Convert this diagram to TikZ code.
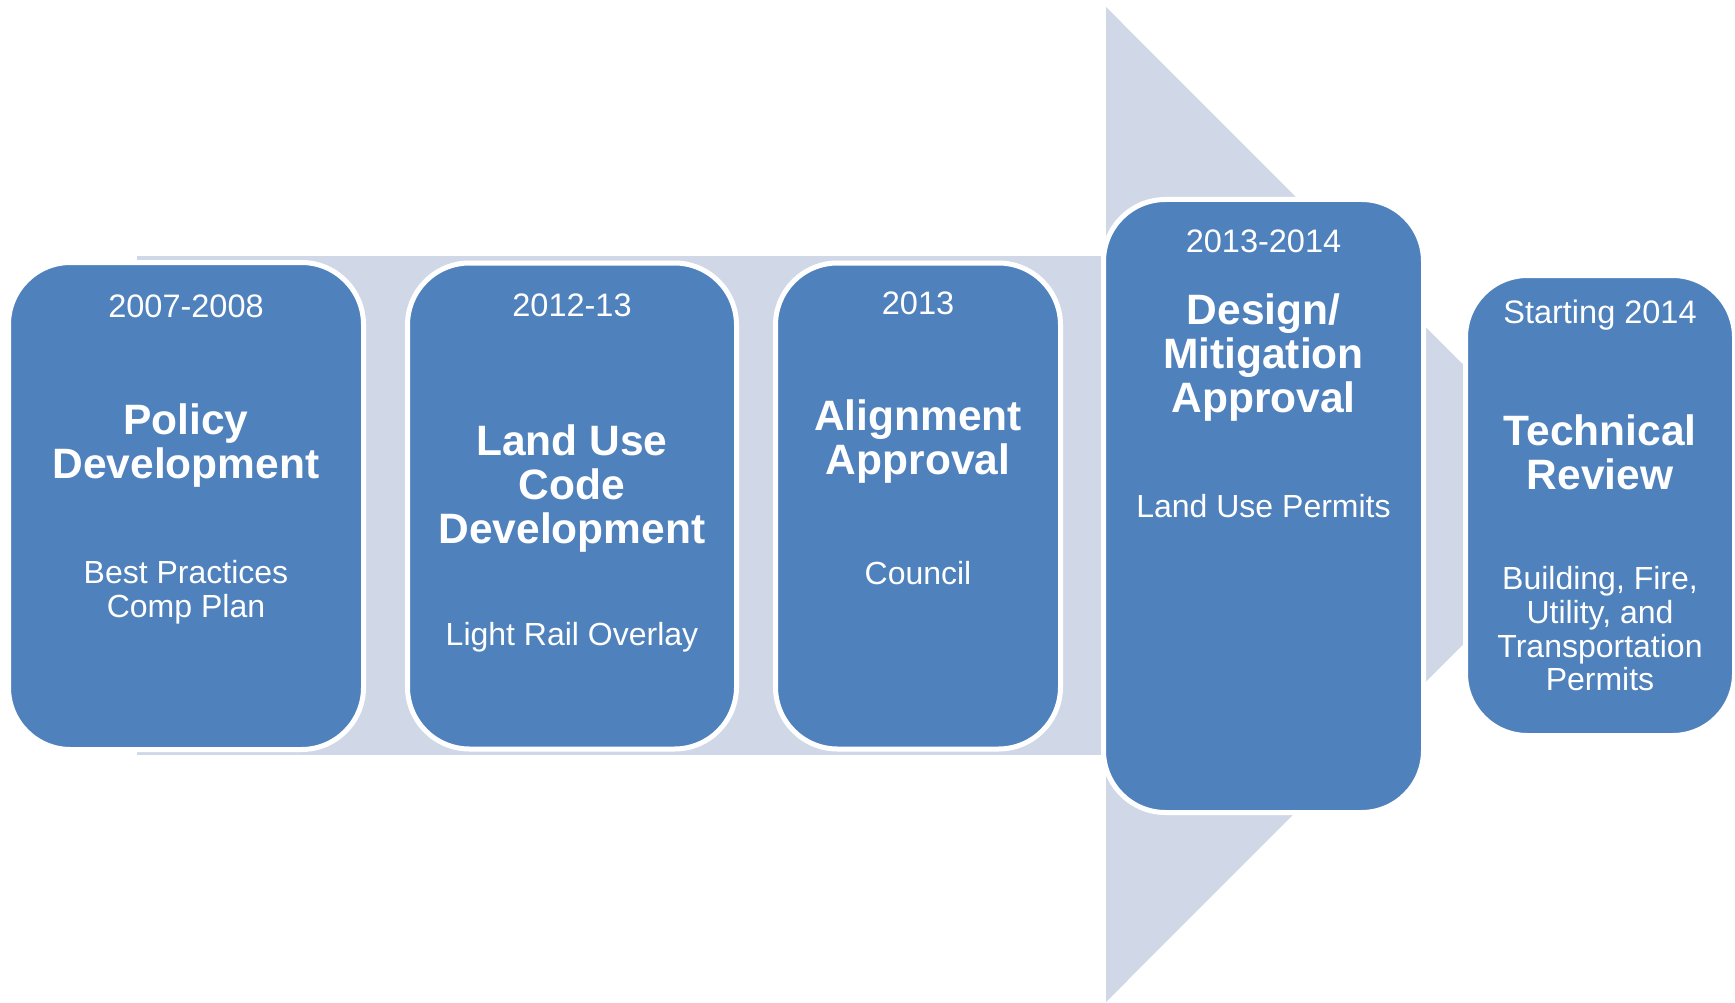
\documentclass[tikz,border=0pt]{standalone}
\usepackage{fontspec}
\setmainfont{Liberation Sans}
\definecolor{boxblue}{HTML}{4F81BD}
\definecolor{arrowlight}{HTML}{D0D8E8}
\begin{document}
\begin{tikzpicture}[x=1pt,y=-1pt,
  stagebox/.style={rectangle, fill=boxblue, draw=white, line width=5pt, rounded corners=62pt, inner sep=0pt},
  yeartext/.style={text=white, font=\fontsize{32.5}{36}\selectfont, align=center},
  titletext/.style={text=white, font=\fontsize{42.5}{44}\selectfont\bfseries, align=center},
  subtext/.style={text=white, font=\fontsize{32}{33.7}\selectfont, align=center},
  arrowshape/.style={fill=arrowlight, draw=none}]
\useasboundingbox (0,0) rectangle (1735,1003);
% big arrow
\fill[arrowshape] (137,256) -- (1110,256) -- (1110,755) -- (137,755) -- cycle;
\fill[arrowshape] (1106,7) -- (1603,504.5) -- (1106,1002) -- cycle;
% boxes
\node[stagebox, minimum width=355pt, minimum height=487pt] (b1) at (186,506) {};
\node[stagebox, minimum width=329pt, minimum height=486pt] (b2) at (572,506) {};
\node[stagebox, minimum width=285pt, minimum height=486pt] (b3) at (918,506) {};
\node[stagebox, minimum width=320pt, minimum height=613pt] (b4) at (1263.5,506) {};
\node[stagebox, minimum width=269pt, minimum height=460pt] (b5) at (1600,505.5) {};
% box 1
\node[yeartext] (y1) at (186,306) {2007-2008};
\node[titletext] (t1) at (186,446) {Policy\\Development};
\node[subtext] (s1) at (186,592) {Best Practices\\Comp Plan};
% box 2
\node[yeartext] (y2) at (572,305) {2012-13};
\node[titletext] (t2) at (572,489) {Land Use\\Code\\Development};
\node[subtext] (s2) at (572,637) {Light Rail Overlay};
% box 3
\node[yeartext] (y3) at (918,303) {2013};
\node[titletext] (t3) at (918,442) {Alignment\\Approval};
\node[subtext] (s3) at (918,573) {Council};
% box 4
\node[yeartext] (y4) at (1263.5,241) {2013-2014};
\node[titletext] (t4) at (1263.5,358) {Design/\\Mitigation\\Approval};
\node[subtext] (s4) at (1263.5,506) {Land Use Permits};
% box 5
\node[yeartext] (y5) at (1600,315) {Starting 2014};
\node[titletext] (t5) at (1600,452) {Technical\\Review};
\node[subtext] (s5) at (1600,629) {Building, Fire,\\Utility, and\\Transportation\\Permits};
\end{tikzpicture}
\end{document}
